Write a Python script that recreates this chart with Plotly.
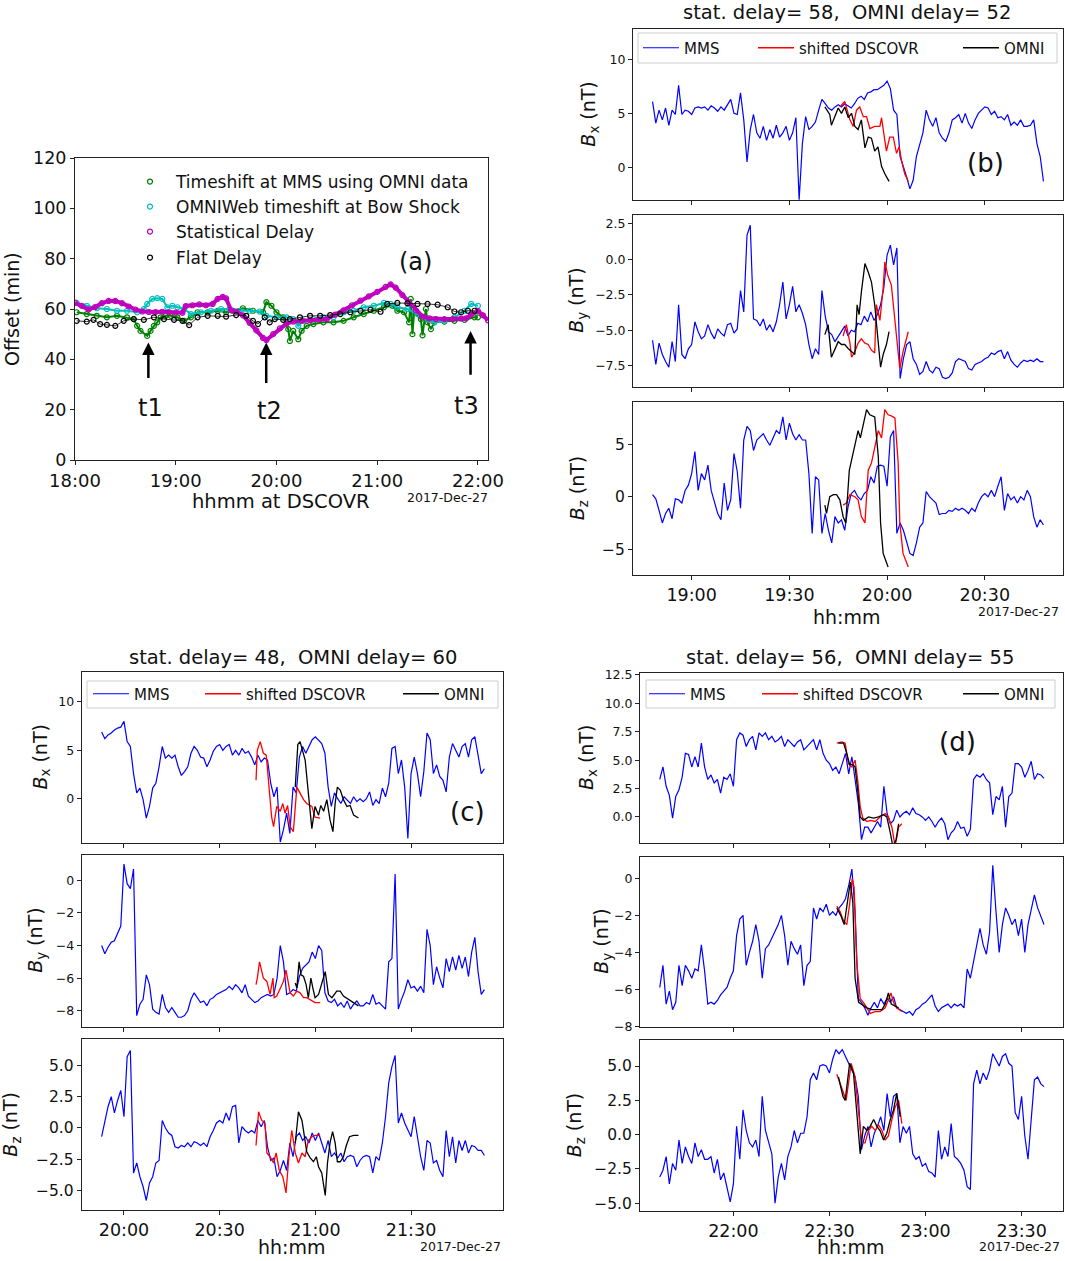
import pandas as pd
import plotly.graph_objects as go

W, H = 1065, 1261
FONT = "DejaVu Sans"

# ---------------- panel (a): delays, minutes after 18:00 at DSCOVR ----------------
a_omni_t = [1, 7, 13, 19, 25, 31, 35, 37, 39, 43, 45, 47, 49, 51, 54, 57, 61, 65, 69, 73,
            79, 85, 90, 94, 100, 106, 112, 114, 117, 120, 124, 127, 128, 130, 133, 135, 138, 142, 148, 154,
            160, 166, 172, 178, 184, 189, 192, 196, 199, 200, 201, 202, 206, 207, 209, 210, 212, 214, 220, 226,
            232, 238, 240]
a_omni = [58.7, 58.0, 57.3, 56.7, 57.3, 56.7, 56.0, 53.3, 51.3, 49.3, 51.3, 53.3, 54.7, 56.7, 57.3, 57.3, 56.7, 55.3, 56.7, 58.7,
          58.7, 59.3, 58.7, 59.3, 60.3, 59.3, 58.7, 62.7, 61.3, 58.7, 56.7, 52.0, 47.3, 51.3, 48.0, 51.3, 53.3, 54.0, 54.7, 54.7,
          55.3, 56.7, 58.0, 59.3, 60.7, 61.3, 59.3, 58.7, 54.7, 64.0, 50.0, 58.7, 56.0, 49.5, 60.0, 54.7, 52.0, 54.7, 55.0, 55.3,
          55.7, 56.7, 56.7]
a_bs_t = [1, 7, 13, 19, 25, 31, 37, 41, 43, 46, 49, 52, 55, 58, 61, 65, 69, 75, 81, 87,
          92, 98, 104, 110, 114, 120, 126, 130, 133, 136, 142, 148, 154, 160, 166, 172, 178, 184, 188, 192,
          198, 204, 210, 214, 220, 226, 232, 236, 240]
a_bs = [62.4, 61.3, 60.3, 60.0, 59.3, 59.3, 58.7, 60.0, 62.0, 64.0, 64.3, 64.0, 60.7, 61.3, 60.7, 60.0, 58.0, 58.7, 59.3, 60.0,
        60.0, 59.3, 59.3, 59.0, 57.3, 56.7, 56.7, 56.0, 53.3, 55.3, 56.0, 56.7, 56.7, 58.7, 59.3, 60.7, 61.3, 62.4, 62.0, 60.7,
        60.0, 58.0, 56.0, 54.7, 55.3, 56.7, 59.3, 62.0, 61.3]
a_stat_t = [0, 4, 8, 12, 16, 20, 24, 28, 32, 36, 40, 44, 48, 52, 56, 60, 64, 66, 70, 74,
            78, 82, 85, 88, 90, 93, 96, 100, 104, 108, 112, 114, 118, 122, 126, 130, 135, 140, 145, 150,
            155, 160, 165, 170, 175, 180, 185, 188, 191, 195, 199, 203, 207, 211, 215, 220, 225, 230, 233, 236,
            240, 243, 246]
a_stat = [62.5, 61.3, 59.8, 60.8, 62.3, 63.2, 63.2, 62.3, 61.0, 59.8, 59.0, 58.8, 58.8, 58.9, 58.7, 58.6, 58.5, 61.2, 61.5, 61.8,
          61.5, 62.0, 64.0, 64.8, 64.2, 59.5, 59.0, 57.5, 54.5, 51.5, 48.5, 47.7, 50.0, 52.3, 54.2, 55.0, 55.3, 55.5, 55.8, 56.0,
          57.8, 59.5, 61.5, 63.3, 65.0, 66.8, 68.8, 69.8, 68.5, 65.5, 62.5, 59.5, 57.0, 56.3, 56.0, 56.0, 56.0, 56.2, 56.3, 57.8,
          59.2, 57.5, 55.5]
a_flat_t = [1, 7, 11, 15, 19, 24, 29, 35, 41, 47, 53, 59, 64, 68, 73, 79, 85, 90, 96, 102,
            106, 109, 113, 116, 119, 124, 128, 134, 140, 146, 152, 158, 164, 170, 176, 182, 186, 192, 198, 204,
            210, 216, 222, 226, 230, 234, 238]
a_flat = [55.3, 55.0, 55.7, 54.0, 53.7, 53.3, 55.3, 56.0, 55.7, 56.7, 56.0, 55.7, 55.3, 53.6, 56.7, 57.3, 57.3, 57.0, 57.6, 57.3,
          55.3, 54.0, 56.7, 54.7, 56.0, 55.7, 56.0, 56.7, 57.3, 57.3, 57.6, 58.0, 58.7, 59.3, 59.7, 58.9, 62.0, 62.4, 62.3, 62.0,
          62.0, 61.7, 60.7, 59.0, 58.7, 59.3, 59.3]
arrow_t = [43.7, 113.9, 235.6]        # t1, t2, t3 in minutes after 18:00
arrow_tip = [46.7, 46.7, 51.3]
arrow_tail = [32.0, 30.0, 33.3]
arrow_labels = ["t1", "t2", "t3"]
label_t = [44.7, 115.9, 233.2]
label_y = [20.7, 19.3, 21.3]

# ---------------- panel (b): MMS every minute from 18:48, others minutes after 18:00 ----------------
b_mms_bx = [6.1, 4.1, 5.3, 4.4, 5.5, 3.9, 5.3, 4.9, 7.6, 4.9, 5.3, 5.2,
            4.9, 5.5, 5.6, 5.5, 5.6, 5.3, 5.7, 5.5, 5.2, 5.6, 5.3, 5.8, 6.3, 5.0, 4.9, 6.9, 4.4, 0.5, 3.5, 4.9,
            3.2, 2.7, 3.8, 2.5, 3.5, 2.7, 3.9, 2.8, 3.2, 3.8, 2.5, 3.2, 4.6, -3.0, 2.2, 4.7, 3.5, 3.8, 4.2, 5.3,
            6.3, 5.9, 5.5, 5.3, 5.6, 5.8, 5.6, 5.9, 5.7, 5.5, 5.9, 6.4, 6.6, 6.3, 6.9, 7.0, 7.2, 7.2, 7.4, 7.6,
            8.0, 7.3, 5.3, 4.9, 1.0, 0.1, -0.9, -2.0, -1.2, 1.0, 2.2, 3.2, 5.3, 4.4, 3.8, 4.6, 3.2, 2.7, 2.4, 3.2,
            4.4, 4.6, 4.9, 4.1, 5.0, 4.1, 3.6, 4.4, 5.0, 5.3, 5.6, 5.5, 4.9, 5.2, 4.6, 4.7, 4.4, 4.9, 3.9, 4.2,
            3.9, 4.4, 3.8, 3.8, 3.9, 4.4, 2.2, 1.0, -1.3]
b_mms_by = [-5.7, -7.4, -5.9, -6.7, -7.2, -7.6, -5.8, -7.2, -3.2, -6.7, -7.0, -6.3,
            -6.0, -4.4, -5.1, -5.6, -5.4, -4.6, -5.2, -5.6, -4.9, -5.2, -5.4, -4.6, -4.5, -5.2, -4.9, -2.2, -3.7, 1.7, 2.4, -4.2,
            -4.3, -4.7, -4.2, -5.0, -4.6, -5.1, -4.4, -3.2, -1.6, -4.2, -3.2, -1.9, -3.7, -3.2, -3.8, -4.6, -6.0, -7.0, -6.3, -6.7,
            -2.2, -4.0, -5.1, -5.3, -5.8, -5.4, -5.1, -4.7, -5.4, -5.0, -5.1, -4.5, -4.6, -4.0, -4.4, -3.7, -4.3, -3.9, -3.2, -2.0,
            0.3, 1.0, -0.4, 0.8, -8.4, -7.0, -6.0, -5.8, -7.0, -7.4, -8.1, -7.9, -7.2, -7.8, -8.0, -7.6, -7.7, -8.3, -8.4, -8.3,
            -8.0, -7.2, -7.0, -7.1, -7.2, -7.7, -7.8, -7.4, -7.3, -7.2, -7.0, -6.9, -6.6, -6.7, -6.5, -6.4, -7.0, -6.5, -7.1, -7.4,
            -7.6, -7.3, -7.1, -7.2, -7.1, -7.2, -7.0, -7.2, -7.2]
b_mms_bz = [0.2, -0.2, -1.3, -2.5, -1.6, -1.1, -2.1, -0.2, -0.3, -0.6, 0.6, 1.1,
            2.2, 4.3, 0.6, 2.2, 1.6, 3.0, 0.6, -0.6, -1.6, -2.2, 1.3, -1.3, -0.3, 4.1, 2.4, -1.1, 5.4, 6.7, 6.3, 4.4,
            5.4, 5.7, 6.0, 5.4, 4.9, 5.6, 6.3, 6.0, 7.6, 5.4, 7.0, 6.0, 5.4, 5.9, 5.4, 5.4, 2.2, -3.5, 1.9, 1.6,
            -3.5, -1.6, -3.2, -4.4, -1.9, -2.5, -2.2, -3.2, -1.0, 0.3, 0.6, 0.0, -0.3, 0.3, 0.6, 1.9, 1.3, 2.9, 3.0, 2.9,
            1.0, 5.7, 6.3, -3.5, -2.5, -3.2, -4.4, -5.4, -5.6, -4.4, -2.9, -2.5, 0.5, 0.0, -0.3, -0.6, -1.7, -1.6, -1.6, -1.3,
            -1.4, -1.1, -1.3, -1.1, -1.3, -1.6, -1.1, -1.4, -0.6, 0.0, 0.3, 0.0, 0.6, 0.0, 1.0, 1.9, -1.3, 0.3, -0.3, 0.0,
            -0.6, 0.0, -0.3, 0.6, 0.0, -1.9, -2.9, -2.2, -2.7]
b_dsc_bx_t = [105.5, 107.0, 108.6, 109.6, 110.6, 111.6, 112.7, 113.7, 114.7, 116.2, 117.8, 118.3, 119.3, 119.8, 120.8,
              121.9, 122.9, 123.7, 124.4, 125.4, 126.5]
b_dsc_bx = [5.6, 6.1, 4.4, 3.8, 5.3, 5.6, 4.7, 4.7, 3.6, 3.8, 3.8, 4.6, 2.5, 1.5, 2.8, 2.8, 1.3, 1.9, 0.7, -0.6, -1.3]
b_dsc_by_t = [106.5, 107.5, 108.6, 109.1, 110.1, 111.1, 112.1, 113.2, 114.2, 115.2, 116.2, 116.7, 117.8, 118.8, 119.3,
              120.3, 121.3, 122.4, 123.4, 123.9, 124.9, 126.5]
b_dsc_by = [-5.4, -4.6, -5.9, -6.9, -6.5, -5.9, -5.6, -5.9, -6.0, -6.4, -6.6, -3.2, -4.3, -2.0, -0.2, -1.2, -1.8, -4.4,
            -6.7, -7.7, -6.5, -5.1]
b_dsc_bz_t = [106.5, 107.5, 108.6, 110.1, 111.1, 112.1, 113.2, 114.2, 115.2, 116.2, 117.3, 118.3, 119.3, 120.3, 121.3,
              122.4, 123.4, 123.9, 124.9, 126.5]
b_dsc_bz = [-0.8, -0.6, 0.2, 0.0, -0.3, -1.9, -2.5, 2.5, 3.2, 4.8, 6.3, 5.6, 8.3, 7.8, 7.7, 7.5, 3.2, -2.5, -5.4, -6.7]
b_omni_bx_t = [100.9, 102.4, 102.9, 104.0, 105.0, 106.0, 107.0, 108.1, 109.1, 110.1, 111.1, 112.1, 113.2, 114.2, 115.2,
               116.2, 117.2, 118.3, 119.3, 120.6]
b_omni_bx = [5.6, 4.9, 3.9, 4.7, 5.5, 5.0, 5.6, 4.6, 5.0, 3.8, 3.5, 4.4, 1.8, 2.8, 2.7, 1.5, 1.9, 0.1, -0.6, -1.3]
b_omni_by_t = [100.9, 101.9, 102.9, 104.0, 105.0, 106.0, 107.0, 108.1, 109.1, 110.1, 110.8, 111.4, 112.1, 113.2, 114.2,
               115.2, 116.2, 117.2, 118.0, 118.8, 119.8, 120.6]
b_omni_by = [-5.3, -4.6, -6.9, -6.3, -5.8, -6.0, -6.0, -6.3, -6.5, -6.7, -3.2, -3.9, -2.3, -0.3, -0.9, -1.6, -3.2, -5.6,
             -7.6, -6.7, -6.0, -5.1]
b_omni_bz_t = [100.9, 101.4, 102.4, 103.5, 104.5, 105.5, 106.5, 107.3, 108.4, 109.4, 110.4, 111.1, 111.8, 112.7, 113.7,
               114.7, 116.2, 117.3, 118.0, 118.8, 120.3]
b_omni_bz = [-0.8, -1.6, 0.0, 0.2, 0.2, -0.3, -1.9, -2.5, 2.5, 3.8, 5.4, 6.3, 5.6, 7.0, 8.3, 7.8, 7.6, 3.8, -2.5, -5.4, -6.7]

# ---------------- panel (c): MMS every minute from 19:53, others minutes after 20:00 ----------------
c_mms_bx = [6.9, 6.2, 6.6, 6.8, 7.1, 7.3, 7.4,
            8.0, 5.9, 5.4, 2.6, 0.6, 1.1, -0.1, -2.0, -0.8, 1.1, 1.6, 3.3, 5.4, 4.2, 4.5, 4.2, 4.5, 3.3, 2.4, 2.8,
            3.3, 4.7, 5.4, 5.0, 4.3, 4.2, 3.3, 4.0, 4.9, 5.4, 5.6, 5.0, 5.4, 5.6, 4.5, 5.0, 4.5, 5.2, 4.7, 4.9,
            4.3, 3.5, 4.5, 3.8, 4.2, 4.0, 1.6, 0.2, 1.2, -4.5, -3.2, -1.5, -3.6, 1.2, 0.6, 4.3, 5.4, 4.7, 5.4, 6.1,
            6.4, 6.1, 5.7, 4.7, 1.2, -0.8, 0.6, 0.0, -0.5, 0.2, -0.1, -0.5, 0.2, -0.3, 0.0, -0.3, 0.0, 0.7, -0.7, -0.1,
            -0.5, 1.1, 0.2, 1.6, 5.2, 5.4, 2.6, 4.0, 1.2, -4.1, 2.6, 4.3, 2.6, 0.2, 2.8, 6.8, 6.1, 2.6, 3.5, 2.3,
            1.9, 0.7, 4.3, 5.7, 5.0, 4.3, 5.4, 5.7, 4.3, 6.1, 6.4, 4.5, 2.6, 3.1]
c_mms_by = [-4.0, -4.5, -4.1, -3.8, -3.7, -3.3, -2.8,
            1.0, -0.2, -0.5, 0.7, -8.3, -7.6, -7.3, -5.8, -6.4, -7.9, -8.1, -8.2, -7.0, -7.8, -8.1, -7.8, -8.1, -8.4, -8.4, -8.3,
            -8.0, -7.3, -6.9, -7.2, -7.5, -7.4, -7.7, -7.3, -7.2, -7.0, -6.9, -6.8, -6.7, -6.5, -6.7, -6.4, -6.6, -6.9, -6.4, -7.1,
            -7.3, -7.5, -7.4, -7.2, -7.1, -7.0, -7.1, -7.0, -6.0, -4.0, -5.0, -7.0, -6.9, -6.7, -6.8, -5.9, -5.4, -5.2, -5.0, -4.4,
            -4.8, -4.0, -4.3, -6.9, -7.4, -7.5, -7.3, -7.7, -7.5, -7.8, -7.4, -7.9, -7.6, -7.4, -7.7, -7.7, -7.5, -7.6, -7.0, -7.6,
            -7.5, -7.7, -7.9, -5.0, -4.8, 0.4, -7.9, -7.3, -6.8, -6.1, -6.6, -6.5, -6.8, -6.5, -6.9, -3.0, -4.0, -6.4, -5.3, -6.0,
            -6.6, -4.8, -5.6, -4.7, -5.5, -4.6, -5.4, -4.7, -5.9, -4.4, -3.5, -5.6, -7.0, -6.7]
c_mms_bz = [-0.7, 0.4, 1.7, 2.5, 1.2, 2.2, 3.0,
            0.9, 5.7, 6.2, -3.6, -2.8, -3.9, -4.7, -5.8, -4.4, -3.9, -2.8, -2.6, 0.6, 0.0, -0.4, -0.6, -1.5, -1.6, -1.4, -1.5,
            -1.2, -1.5, -1.1, -1.2, -1.4, -1.2, -1.5, -0.7, -0.2, 0.4, 0.6, 0.4, 1.2, 0.6, 1.7, 1.8, -1.2, 0.1, -0.2, -0.4,
            -0.2, -0.4, 0.6, 0.1, 0.6, -1.5, -2.6, -2.4, -3.9, -3.4, -2.6, -3.4, -1.2, -2.3, -0.7, -0.4, -1.0, -0.7, -1.2, -0.4,
            -1.0, -0.4, -1.2, -2.0, -1.0, -2.3, -2.0, -2.4, -2.0, -2.7, -2.3, -2.2, -2.3, -3.1, -2.6, -2.3, -2.2, -2.3, -3.6, -2.3,
            -2.6, -1.2, 0.9, 3.6, 4.9, 5.8, 0.4, 1.2, 0.4, -0.2, -0.7, 0.9, -0.7, -2.3, -3.4, -1.0, -1.2, -2.8, -2.6, -3.4,
            -3.9, -0.2, -2.3, -0.7, -2.8, -1.0, -1.8, -1.0, -2.0, -1.4, -1.5, -1.8, -1.8, -2.2]
c_dsc_bx_t = [41.4, 41.8, 42.7, 43.7, 44.6, 45.3, 46.3, 46.9, 47.9, 49.0, 49.8, 50.5, 51.3, 52.1, 53.1, 54.2, 55.2, 56.3,
              57.3, 58.9, 59.9, 61.5]
c_dsc_bx = [1.9, 5.0, 5.9, 4.7, 4.5, 1.9, -1.9, -2.9, -0.8, -1.3, -0.5, -1.5, -0.7, -2.9, -3.4, 1.2, 0.6, -0.1, -0.5,
            -0.8, -1.9, -2.0]
c_dsc_by_t = [41.4, 41.8, 42.5, 43.2, 43.7, 44.8, 45.8, 46.7, 47.1, 47.9, 49.0, 50.0, 50.8, 51.3, 52.1, 53.1, 54.2, 55.2,
              56.3, 57.3, 58.9, 59.9, 61.5]
c_dsc_by = [-6.4, -6.0, -5.0, -5.6, -6.0, -6.2, -7.0, -6.0, -7.2, -7.1, -6.6, -6.2, -5.5, -6.0, -6.9, -7.1, -6.8, -6.9,
            -7.2, -7.2, -7.4, -7.5, -7.5]
c_dsc_bz_t = [41.4, 42.2, 43.2, 44.2, 44.8, 45.8, 46.9, 47.7, 48.7, 49.8, 50.8, 51.7, 52.6, 53.7, 54.7, 55.8, 56.8, 57.8,
              58.9, 59.9, 61.5]
c_dsc_bz = [-1.4, 1.3, 0.6, 0.4, -2.0, -2.3, -2.8, -2.0, -3.4, -3.9, -5.2, -2.3, -0.2, -2.0, -2.8, -2.0, -2.3, -1.0,
            -0.7, -0.6, -0.6]
c_omni_bx_t = [53.7, 54.5, 55.2, 56.1, 56.8, 57.8, 58.9, 59.9, 61.0, 61.7, 62.6, 63.6, 64.6, 65.5, 66.2, 66.9, 67.8, 68.8,
               69.9, 70.9, 72.0, 73.5]
c_omni_bx = [1.2, 5.6, 5.9, 4.7, 4.0, 0.6, -3.1, -0.8, -1.7, -0.7, -1.3, -0.1, -2.2, -3.4, -0.5, 1.2, 0.9, -0.1, -0.8,
             -0.7, -1.7, -2.0]
c_omni_by_t = [53.7, 54.2, 54.9, 55.5, 56.3, 57.1, 57.8, 58.6, 59.2, 59.9, 61.0, 62.0, 63.1, 64.1, 65.2, 66.7, 67.8, 68.8,
               70.4, 72.0, 73.5]
c_omni_by = [-6.3, -6.6, -5.0, -5.8, -5.9, -6.4, -7.2, -6.0, -6.6, -7.2, -7.0, -6.4, -5.6, -7.0, -7.2, -6.8, -6.8, -7.1,
             -7.3, -7.5, -7.7]
c_omni_bz_t = [53.7, 54.7, 55.8, 56.5, 57.3, 58.4, 59.4, 60.3, 61.0, 62.0, 63.1, 63.8, 64.6, 65.4, 66.2, 66.9, 67.8, 68.8,
               69.7, 70.7, 72.0, 73.5]
c_omni_bz = [-1.2, 1.3, 0.6, -0.7, -1.9, -2.4, -2.7, -2.3, -3.1, -3.6, -5.4, -2.8, -1.2, -0.3, -1.2, -2.7, -2.7, -2.3,
             -1.4, -0.7, -0.6, -0.6]

# ---------------- panel (d): MMS every minute from 21:37, others minutes after 22:00 ----------------
d_mms_bx = [3.3, 4.4, 2.7, 1.9, -0.1, 1.8, 2.4, 3.5, 5.6, 5.5, 4.4, 5.3, 4.4, 6.5, 4.4, 3.3, 3.7, 3.0, 3.3, 2.1, 3.5, 3.3, 3.8,
            2.7, 6.8, 7.4, 7.2, 6.2, 6.8, 7.1, 5.9, 7.4, 7.1, 7.4, 6.8, 7.1, 6.6, 6.8, 7.1, 6.2, 6.8, 6.5, 6.2,
            6.6, 6.8, 5.9, 6.2, 6.5, 6.8, 5.9, 6.8, 5.6, 5.0, 4.7, 4.1, 4.4, 3.8, 4.7, 5.6, 3.8, 5.3, 3.3, 1.2,
            -2.0, -0.9, -0.9, -1.4, -0.9, -0.4, -0.9, 2.7, 0.3, -0.6, -0.3, 0.6, 0.0, 0.3, 0.5, 0.2, 0.8, 0.3, 0.2, 0.0,
            -0.3, 0.0, -0.4, -0.9, -0.4, -0.1, -0.6, -2.0, -1.4, -1.1, -0.4, -1.0, -0.9, -1.7, -1.1, 3.3, 3.7, 3.5, 3.8, 3.3,
            3.0, 0.2, 1.8, 1.5, 2.7, -0.9, 1.8, 2.1, 4.7, 4.7, 4.4, 3.5, 4.1, 4.9, 3.3, 3.8, 3.7, 3.4]
d_mms_by = [-5.9, -4.7, -6.8, -6.1, -7.1, -6.7, -4.7, -5.8, -4.7, -5.0, -5.4, -4.9, -5.0, -3.6, -5.0, -6.8, -6.7, -6.8, -6.6,
            -6.3, -6.1, -5.9, -5.4,
            -5.0, -3.1, -2.2, -2.0, -4.7, -4.0, -3.4, -2.5, -3.4, -5.4, -3.8, -3.6, -3.2, -2.9, -2.5, -2.0, -3.1, -4.7, -3.4, -3.8,
            -4.1, -3.6, -5.8, -4.7, -4.5, -1.6, -2.2, -1.6, -1.8, -1.4, -2.0, -1.8, -2.0, -1.6, -1.4, -1.1, -0.4, 0.5, -1.8, -6.5,
            -6.7, -7.0, -7.4, -7.0, -6.7, -7.0, -6.5, -6.8, -6.5, -6.7, -6.4, -7.0, -7.1, -7.2, -7.3, -7.2, -7.4, -7.1, -7.0, -6.8,
            -6.7, -6.5, -6.3, -6.9, -7.2, -7.0, -6.9, -6.8, -7.0, -6.8, -6.9, -6.8, -7.0, -4.9, -5.4, -4.5, -3.6, -2.7, -3.6, -4.1,
            -2.9, 0.7, -1.8, -4.0, -2.5, -1.6, -2.0, -2.5, -2.2, -3.1, -2.2, -4.0, -2.5, -1.6, -0.9, -1.6, -2.0, -2.5]
d_mms_bz = [-3.1, -2.6, -1.6, -3.6, -2.1, -2.6, -0.4, -2.1, -0.9, -1.6, -2.1, -0.6, -1.6, -1.1, -1.8, -1.8, -1.6, -2.8, -1.8,
            -3.3, -2.8, -3.8, -4.9,
            -3.6, 0.6, -1.8, 1.8, 0.3, -0.6, -0.9, -0.4, -1.6, 2.8, 0.3, -0.6, -1.4, -5.0, -3.1, -2.1, -3.3, -1.6, -0.9, 0.3,
            -0.6, 0.1, 0.1, 1.3, 4.0, 4.5, 4.0, 5.0, 5.1, 5.0, 4.5, 5.5, 6.2, 5.9, 6.2, 5.7, 5.2, 4.7, 4.2, 2.8,
            -1.1, -0.1, 0.6, -0.9, 0.1, 0.6, 1.3, 0.3, 3.0, 1.3, 2.8, 3.0, -0.6, 0.6, 0.1, 0.6, -1.4, -1.8, -1.6, -2.3,
            -2.1, -2.7, -2.8, -3.1, 0.3, -1.8, -0.9, -1.6, 0.8, -1.6, -1.8, -2.1, -2.6, -3.8, -4.0, 3.7, 4.7, 3.7, 4.5, 4.0,
            4.7, 5.9, 5.5, 5.0, 5.7, 5.9, 5.2, 5.0, 1.6, 1.1, 2.8, -0.1, -1.8, 0.8, 4.0, 4.2, 3.7, 3.5]
d_dsc_bx_t = [32.3, 33.9, 34.9, 35.9, 37.0, 38.0, 38.8, 39.6, 40.4, 41.7, 42.7, 44.3, 45.8, 47.4, 48.4, 49.5, 50.5, 51.6, 52.6]
d_dsc_bx = [6.5, 6.6, 6.5, 4.7, 4.4, 5.0, 3.3, 0.9, -0.1, -0.4, -0.3, -0.4, 0.0, 0.3, 0.0, -0.9, -2.6, -0.9, -0.6]
d_dsc_by_t = [32.3, 33.3, 34.4, 35.4, 36.3, 37.1, 37.7, 38.5, 39.6, 40.6, 41.7, 42.7, 44.3, 45.8, 47.4, 48.4, 49.2, 50.0,
              51.0, 52.6]
d_dsc_by = [-1.5, -1.8, -2.3, -2.5, -1.4, 0.0, -0.5, -4.5, -6.5, -6.7, -7.0, -7.3, -7.2, -7.2, -7.0, -6.5, -6.2, -6.7,
            -7.0, -7.2]
d_dsc_bz_t = [32.3, 33.9, 35.2, 36.8, 38.0, 39.1, 40.1, 41.1, 42.2, 43.2, 44.3, 45.3, 46.4, 47.4, 48.4, 49.5, 50.5, 51.6, 52.6]
d_dsc_bz = [4.4, 3.3, 2.5, 5.2, 4.2, 1.6, -0.6, -0.6, 0.3, 0.6, 0.3, 0.7, 0.3, -0.4, -0.1, 1.1, 2.0, 2.5, 0.8]
d_omni_bx_t = [32.8, 34.4, 35.4, 36.3, 37.3, 38.0, 38.8, 39.6, 40.6, 42.2, 43.8, 45.3, 46.9, 47.9, 49.0, 49.8, 50.8, 51.6]
d_omni_bx = [6.5, 6.5, 5.6, 4.6, 4.6, 4.4, 2.4, 0.0, -0.3, 0.0, -0.1, 0.0, 0.2, 0.0, -1.4, -2.6, -2.0, -0.6]
d_omni_by_t = [32.3, 33.5, 34.6, 35.6, 36.5, 37.3, 38.0, 39.1, 40.1, 41.7, 43.2, 44.8, 46.4, 47.4, 48.4, 49.3, 50.5, 51.6]
d_omni_by = [-1.6, -2.0, -2.5, -1.4, -0.2, -1.3, -5.4, -6.7, -6.8, -7.0, -7.1, -7.1, -7.1, -6.8, -6.2, -6.8, -6.9, -7.0]
d_omni_bz_t = [32.8, 34.2, 34.9, 36.3, 37.5, 38.5, 39.6, 40.6, 41.7, 42.7, 43.8, 44.8, 45.8, 46.9, 47.9, 49.0, 50.0, 51.0, 52.1]
d_omni_bz = [4.2, 2.8, 2.5, 5.2, 4.5, 1.6, -1.4, 0.6, 0.3, 0.6, 1.1, 0.6, 0.3, -0.4, 0.1, 1.1, 1.8, 3.0, 1.3]


def clock(start, minutes):
    t0 = pd.Timestamp("2017-12-27 " + start)
    return [t0 + pd.Timedelta(minutes=float(m)) for m in minutes]


def fx(px):
    return px / W


def fy(px):
    return 1 - px / H


def paper_text(x, y, text, size, angle=0):
    return dict(x=fx(x), y=fy(y), xref="paper", yref="paper", text=text, textangle=angle,
                xanchor="center", yanchor="middle", showarrow=False,
                font=dict(family=FONT, size=size, color="#111"))


axis_style = dict(showline=True, mirror=True, linecolor="#222", linewidth=1, ticks="outside",
                  ticklen=4, tickcolor="#222", showgrid=False, zeroline=False, automargin=False)

fig = go.Figure()
layout = {}
annotations = []
shapes = []

# ---------------- panel (a) ----------------
a_series = [
    ("Timeshift at MMS using OMNI data", a_omni_t, a_omni, "#008000", 2.0),
    ("OMNIWeb timeshift at Bow Shock", a_bs_t, a_bs, "#00bfbf", 2.0),
    ("Statistical Delay", a_stat_t, a_stat, "#bf00bf", 4.0),
    ("Flat Delay", a_flat_t, a_flat, "#000000", 0.8),
]
a_leg_y = [182, 207, 232, 258]
for i, (name, t, v, col, lw) in enumerate(a_series):
    leg = "legend" if i == 0 else "legend%d" % (i + 1)
    x = clock("18:00", t)
    fig.add_trace(go.Scatter(x=x, y=v, mode="lines", line=dict(color=col, width=lw),
                             xaxis="x", yaxis="y", showlegend=False, hoverinfo="skip"))
    fig.add_trace(go.Scatter(x=x, y=v, mode="markers", name=name, legend=leg,
                             marker=dict(symbol="circle-open", size=5, color=col, line=dict(width=1.2)),
                             xaxis="x", yaxis="y"))
    layout[leg] = dict(x=fx(124), y=fy(a_leg_y[i]), xanchor="left", yanchor="middle", itemwidth=42,
                       bgcolor="rgba(0,0,0,0)", font=dict(family=FONT, size=17, color="#111"))

layout["xaxis"] = dict(domain=[fx(75), fx(488)], anchor="y", type="date",
                       range=["2017-12-27 18:00", "2017-12-27 22:06"], dtick=3600000,
                       tick0="2017-12-27 18:00", tickformat="%H:%M",
                       tickfont=dict(family=FONT, size=18, color="#111"), **axis_style)
layout["yaxis"] = dict(domain=[fy(460), fy(158)], anchor="x", range=[0, 120], dtick=20,
                       tickfont=dict(family=FONT, size=17.5, color="#111"), **axis_style)

for t, tip, tail, lt, ly, lab in zip(arrow_t, arrow_tip, arrow_tail, label_t, label_y, arrow_labels):
    xt = clock("18:00", [t])[0]
    annotations.append(dict(x=xt, y=tip, ax=xt, ay=tail, xref="x", yref="y", axref="x", ayref="y",
                            text="", showarrow=True, arrowhead=2, arrowsize=1, arrowwidth=2.5,
                            arrowcolor="black"))
    annotations.append(dict(x=clock("18:00", [lt])[0], y=ly, xref="x", yref="y", text=lab,
                            xanchor="center", yanchor="middle", showarrow=False,
                            font=dict(family=FONT, size=24, color="#111")))
annotations += [
    dict(x=clock("18:00", [202.8])[0], y=78.7, xref="x", yref="y", text="(a)", xanchor="center",
         yanchor="middle", showarrow=False, font=dict(family=FONT, size=24, color="#111")),
    paper_text(12, 309, "Offset (min)", 19, -90),
    paper_text(281, 502, "hhmm at DSCOVR", 19.5),
    paper_text(447, 498, "2017-Dec-27", 12.5),
]

# ---------------- panels (b), (c), (d) ----------------
panels = [
    dict(tag="(b)", tag_xy=(985, 163), title="stat. delay= 58,\u00a0 OMNI delay= 52", title_xy=(847, 13),
         base="18:00", mms_start="18:48",
         mms=[b_mms_bx, b_mms_by, b_mms_bz],
         dsc=[(b_dsc_bx_t, b_dsc_bx), (b_dsc_by_t, b_dsc_by), (b_dsc_bz_t, b_dsc_bz)],
         omni=[(b_omni_bx_t, b_omni_bx), (b_omni_by_t, b_omni_by), (b_omni_bz_t, b_omni_bz)],
         left=633, right=1063, rows=[(29.3, 200), (215, 386.7), (401.7, 575)],
         xrange=["2017-12-27 18:42", "2017-12-27 20:54"],
         yranges=[[-3.03, 12.8], [-8.97, 3.12], [-7.46, 9.05]],
         dticks=[5, 2.5, 5], fmts=["", ".1f", ""], ylab_x=[590, 578, 578],
         xlab_xy=(847, 617), date_xy=(1018, 611),
         leg_lines=[643, 758, 963], leg_y=48, frame=(638, 1057, 33, 63)),
    dict(tag="(c)", tag_xy=(467, 812), title="stat. delay= 48,\u00a0 OMNI delay= 60", title_xy=(293, 657),
         base="20:00", mms_start="19:53",
         mms=[c_mms_bx, c_mms_by, c_mms_bz],
         dsc=[(c_dsc_bx_t, c_dsc_bx), (c_dsc_by_t, c_dsc_by), (c_dsc_bz_t, c_dsc_bz)],
         omni=[(c_omni_bx_t, c_omni_bx), (c_omni_by_t, c_omni_by), (c_omni_bz_t, c_omni_bz)],
         left=81.7, right=503.3, rows=[(672.3, 842.7), (855, 1026.7), (1039.3, 1210)],
         xrange=["2017-12-27 19:46:45", "2017-12-27 21:58:55"],
         yranges=[[-4.55, 13.07], [-8.98, 1.56], [-6.56, 7.09]],
         dticks=[5, 2, 2.5], fmts=["", "", ".1f"], ylab_x=[41, 37, 12],
         xlab_xy=(292, 1247), date_xy=(460, 1246),
         leg_lines=[93, 205, 403], leg_y=694, frame=(87, 498, 681, 708)),
    dict(tag="(d)", tag_xy=(957, 742), title="stat. delay= 56,\u00a0 OMNI delay= 55", title_xy=(850, 657),
         base="22:00", mms_start="21:37",
         mms=[d_mms_bx, d_mms_by, d_mms_bz],
         dsc=[(d_dsc_bx_t, d_dsc_bx), (d_dsc_by_t, d_dsc_by), (d_dsc_bz_t, d_dsc_bz)],
         omni=[(d_omni_bx_t, d_omni_bx), (d_omni_by_t, d_omni_by), (d_omni_bz_t, d_omni_bz)],
         left=640, right=1062.7, rows=[(672.7, 843.3), (856.7, 1026.7), (1040, 1210.7)],
         xrange=["2017-12-27 21:30:50", "2017-12-27 23:42:50"],
         yranges=[[-2.32, 12.7], [-8.02, 1.17], [-5.55, 6.9]],
         dticks=[2.5, 2, 2.5], fmts=[".1f", "", ".1f"], ylab_x=[587, 603, 575],
         xlab_xy=(851, 1247), date_xy=(1019, 1246),
         leg_lines=[649, 762, 963], leg_y=694, frame=(646, 1055, 680, 708)),
]
comp_labels = ["<i>B</i><sub>x</sub> (nT)", "<i>B</i><sub>y</sub> (nT)", "<i>B</i><sub>z</sub> (nT)"]
names = ["MMS", "shifted DSCOVR", "OMNI"]
colors = ["#0000ff", "#ff0000", "#000000"]

leg_n = 5
for pi, p in enumerate(panels):
    legs = ["legend%d" % (leg_n + j) for j in range(3)]
    leg_n += 3
    for j, lg in enumerate(legs):
        layout[lg] = dict(x=fx(p["leg_lines"][j] - 5), y=fy(p["leg_y"]), xanchor="left", yanchor="middle",
                          bgcolor="rgba(0,0,0,0)", itemwidth=36,
                          font=dict(family=FONT, size=15, color="#111"))
    l0, l1, t0, t1 = p["frame"]
    shapes.append(dict(type="rect", xref="paper", yref="paper", x0=fx(l0), x1=fx(l1), y0=fy(t1), y1=fy(t0),
                       line=dict(color="#cccccc", width=1), fillcolor="rgba(255,255,255,0.85)", layer="above"))
    for k in range(3):
        n = 2 + pi * 3 + k
        xa, ya = "x%d" % n, "y%d" % n
        mms = p["mms"][k]
        series = [
            (clock(p["mms_start"], range(len(mms))), mms, 1.2),
            (clock(p["base"], p["dsc"][k][0]), p["dsc"][k][1], 1.3),
            (clock(p["base"], p["omni"][k][0]), p["omni"][k][1], 1.3),
        ]
        for j, (x, y, lw) in enumerate(series):
            fig.add_trace(go.Scatter(x=x, y=y, mode="lines", name=names[j], legend=legs[j],
                                     showlegend=(k == 0), line=dict(color=colors[j], width=lw),
                                     xaxis=xa, yaxis=ya))
        top, bot = p["rows"][k]
        layout["xaxis%d" % n] = dict(domain=[fx(p["left"]), fx(p["right"])], anchor=ya, type="date",
                                     range=p["xrange"], dtick=1800000, tick0="2017-12-27 00:00",
                                     tickformat="%H:%M", showticklabels=(k == 2),
                                     tickfont=dict(family=FONT, size=17.5, color="#111"), **axis_style)
        layout["yaxis%d" % n] = dict(domain=[fy(bot), fy(top)], anchor=xa, range=p["yranges"][k],
                                     dtick=p["dticks"][k], tick0=0, tickformat=p["fmts"][k],
                                     tickfont=dict(family=FONT, size=12.5 if k < 2 else 15.5, color="#111"),
                                     **axis_style)
        annotations.append(paper_text(p["ylab_x"][k], (top + bot) / 2, comp_labels[k], 19, -90))
    annotations += [
        paper_text(p["title_xy"][0], p["title_xy"][1], p["title"], 19.5),
        paper_text(p["tag_xy"][0], p["tag_xy"][1], p["tag"], 26),
        paper_text(p["xlab_xy"][0], p["xlab_xy"][1], "hh:mm", 19),
        paper_text(p["date_xy"][0], p["date_xy"][1], "2017-Dec-27", 12.5),
    ]

fig.update_layout(width=W, height=H, autosize=False,
                  margin=dict(l=0, r=0, t=0, b=0, pad=0, autoexpand=False),
                  paper_bgcolor="white", plot_bgcolor="white",
                  font=dict(family=FONT, color="#111"),
                  annotations=annotations, shapes=shapes, **layout)

fig.write_html("out.html", config={"displayModeBar": False},
               post_script="document.body.style.margin='0';")
